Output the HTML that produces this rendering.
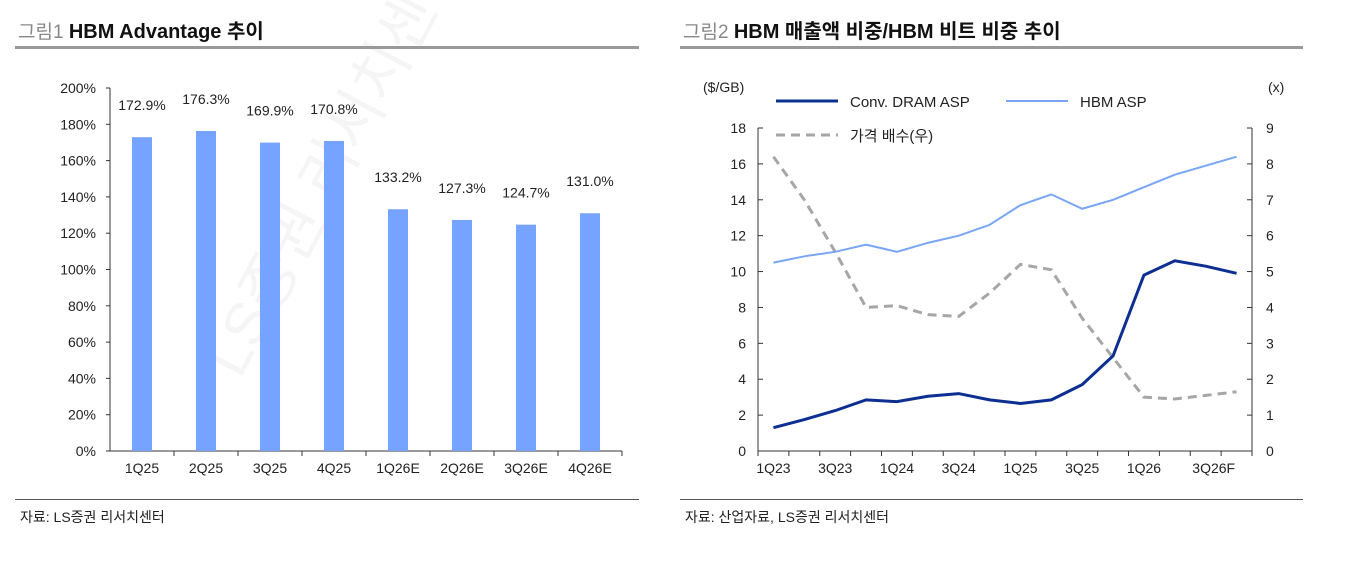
<!DOCTYPE html>
<html><head><meta charset="utf-8"><style>
body{margin:0;background:#fff;width:1363px;height:570px;overflow:hidden;font-family:"Liberation Sans","Noto Sans CJK KR",sans-serif;}
svg text{font-family:"Liberation Sans","Noto Sans CJK KR",sans-serif;}
</style></head><body>
<svg id="svg" width="1363" height="570">
<text x="240" y="380" transform="rotate(-62 240 380)" font-size="60" fill="#f5f5f5">LS증권 리서치센터</text>
<text x="18" y="38" font-size="19" fill="#888">그림1 <tspan fill="#111" font-size="20" font-weight="bold">HBM Advantage 추이</tspan></text>
<rect x="15" y="46" width="624" height="3" fill="#999"/>
<text x="683" y="38" font-size="19" fill="#888">그림2 <tspan fill="#111" font-size="20" font-weight="bold">HBM 매출액 비중/HBM 비트 비중 추이</tspan></text>
<rect x="680" y="46" width="623" height="3" fill="#999"/>
<rect x="15" y="499" width="624" height="1" fill="#555"/>
<rect x="680" y="499" width="623" height="1" fill="#555"/>
<text x="20" y="522" font-size="14" fill="#222">자료: LS증권 리서치센터</text>
<text x="685" y="522" font-size="14" fill="#222">자료: 산업자료, LS증권 리서치센터</text>
<g id="c1"></g><g id="c2"></g>
</svg>
<script>
const barCats=["1Q25","2Q25","3Q25","4Q25","1Q26E","2Q26E","3Q26E","4Q26E"];
const barVals=[172.9,176.3,169.9,170.8,133.2,127.3,124.7,131.0];
const yTicks1=[0,20,40,60,80,100,120,140,160,180,200];
const qCats=["1Q23","2Q23","3Q23","4Q23","1Q24","2Q24","3Q24","4Q24","1Q25","2Q25","3Q25","4Q25","1Q26","2Q26","3Q26F","4Q26F"];
const dramAsp=[1.3,1.75,2.25,2.85,2.75,3.05,3.2,2.85,2.65,2.85,3.7,5.3,9.8,10.6,10.3,9.9];
const hbmAsp=[10.5,10.85,11.1,11.5,11.1,11.6,12.0,12.6,13.7,14.3,13.5,14.0,14.7,15.4,15.9,16.4];
const ratio=[8.2,7.0,5.55,4.0,4.05,3.8,3.75,4.4,5.2,5.05,3.7,2.6,1.5,1.45,1.55,1.65];
const leftTicks=[0,2,4,6,8,10,12,14,16,18];
const rightTicks=[0,1,2,3,4,5,6,7,8,9];
const NS="http://www.w3.org/2000/svg";
function mk(p,t,a,txt){const e=document.createElementNS(NS,t);for(const k in a)e.setAttribute(k,a[k]);if(txt!==undefined)e.textContent=txt;p.appendChild(e);return e;}
const c1=document.getElementById('c1');
const x0=110,x1=622,yb=451,yt=88;
const y1=v=>yb-(v/200)*(yb-yt);
const bw=(x1-x0)/barCats.length;
const bx=i=>x0+bw*(i+0.5);
let e=mk(c1,'line',{x1:x0,y1:yt,x2:x0,y2:yb,stroke:'#333'});


e=mk(c1,'line',{x1:x0,y1:yb,x2:x1,y2:yb,stroke:'#333'});


yTicks1.forEach(t=>{mk(c1,'line',{x1:x0-4,y1:y1(t),x2:x0,y2:y1(t),stroke:'#333'});
e=mk(c1,'text',{x:x0-14,y:y1(t)+5,'font-size':14,'text-anchor':'end',fill:'#222'},t+'%');

});
barCats.forEach((c,i)=>{
mk(c1,'line',{x1:x0+bw*(i+1),y1:yb,x2:x0+bw*(i+1),y2:yb+5,stroke:'#333'});
e=mk(c1,'rect',{x:bx(i)-10,y:y1(barVals[i]),width:20,height:yb-y1(barVals[i]),fill:'#76a3ff'});


e=mk(c1,'text',{x:bx(i),y:y1(barVals[i])-27,'font-size':14,'text-anchor':'middle',fill:'#222'},barVals[i].toFixed(1)+'%');


e=mk(c1,'text',{x:bx(i),y:yb+22,'font-size':14,'text-anchor':'middle',fill:'#222'},c);

});
const c2=document.getElementById('c2');
const L=758,R=1252,T=128,B=451;
const cw=(R-L)/qCats.length;
const qx=i=>L+cw*(i+0.5);
const yl=v=>B-v/18*(B-T), yr=v=>B-v/9*(B-T);
e=mk(c2,'line',{x1:L,y1:T,x2:L,y2:B,stroke:'#333'});


e=mk(c2,'line',{x1:R,y1:T,x2:R,y2:B,stroke:'#333'});


e=mk(c2,'line',{x1:L,y1:B,x2:R,y2:B,stroke:'#333'});


leftTicks.forEach(t=>{mk(c2,'line',{x1:L,y1:yl(t),x2:L+5,y2:yl(t),stroke:'#333'});
e=mk(c2,'text',{x:L-12,y:yl(t)+5,'font-size':14,'text-anchor':'end',fill:'#222'},t);

});
rightTicks.forEach(t=>{mk(c2,'line',{x1:R-5,y1:yr(t),x2:R,y2:yr(t),stroke:'#333'});
e=mk(c2,'text',{x:R+14,y:yr(t)+5,'font-size':14,fill:'#222'},t);

});
for(let i=0;i<=qCats.length;i++)mk(c2,'line',{x1:L+cw*i,y1:B,x2:L+cw*i,y2:B+5,stroke:'#333'});
qCats.forEach((c,i)=>{if(i%2==0){e=mk(c2,'text',{x:qx(i)+(i==14?8:0),y:B+22,'font-size':14,'text-anchor':'middle',fill:'#222'},c);

}});
const pts=(a,f)=>a.map((v,i)=>qx(i)+','+f(v)).join(' ');
e=mk(c2,'polyline',{points:pts(ratio,yr),fill:'none',stroke:'#a6a6a6','stroke-width':3,'stroke-dasharray':'9,6'});


e=mk(c2,'polyline',{points:pts(hbmAsp,yl),fill:'none',stroke:'#78a6f5','stroke-width':2});


e=mk(c2,'polyline',{points:pts(dramAsp,yl),fill:'none',stroke:'#0d2f92','stroke-width':3});


e=mk(c2,'text',{x:703,y:92,'font-size':14,fill:'#222'},'($/GB)');


e=mk(c2,'text',{x:1268,y:92,'font-size':14,fill:'#222'},'(x)');


const lg=[[776,101,'#0d2f92',3,'','Conv. DRAM ASP'],[1006,101,'#78a6f5',2,'','HBM ASP'],[776,135,'#a6a6a6',3,'9,6','가격 배수(우)']];
lg.forEach(g=>{mk(c2,'line',{x1:g[0],y1:g[1],x2:g[0]+62,y2:g[1],stroke:g[2],'stroke-width':g[3],'stroke-dasharray':g[4]});
e=mk(c2,'text',{x:g[0]+74,y:g[1]+6,'font-size':15,fill:'#222'},g[5]);

});
</script>
</body></html>
